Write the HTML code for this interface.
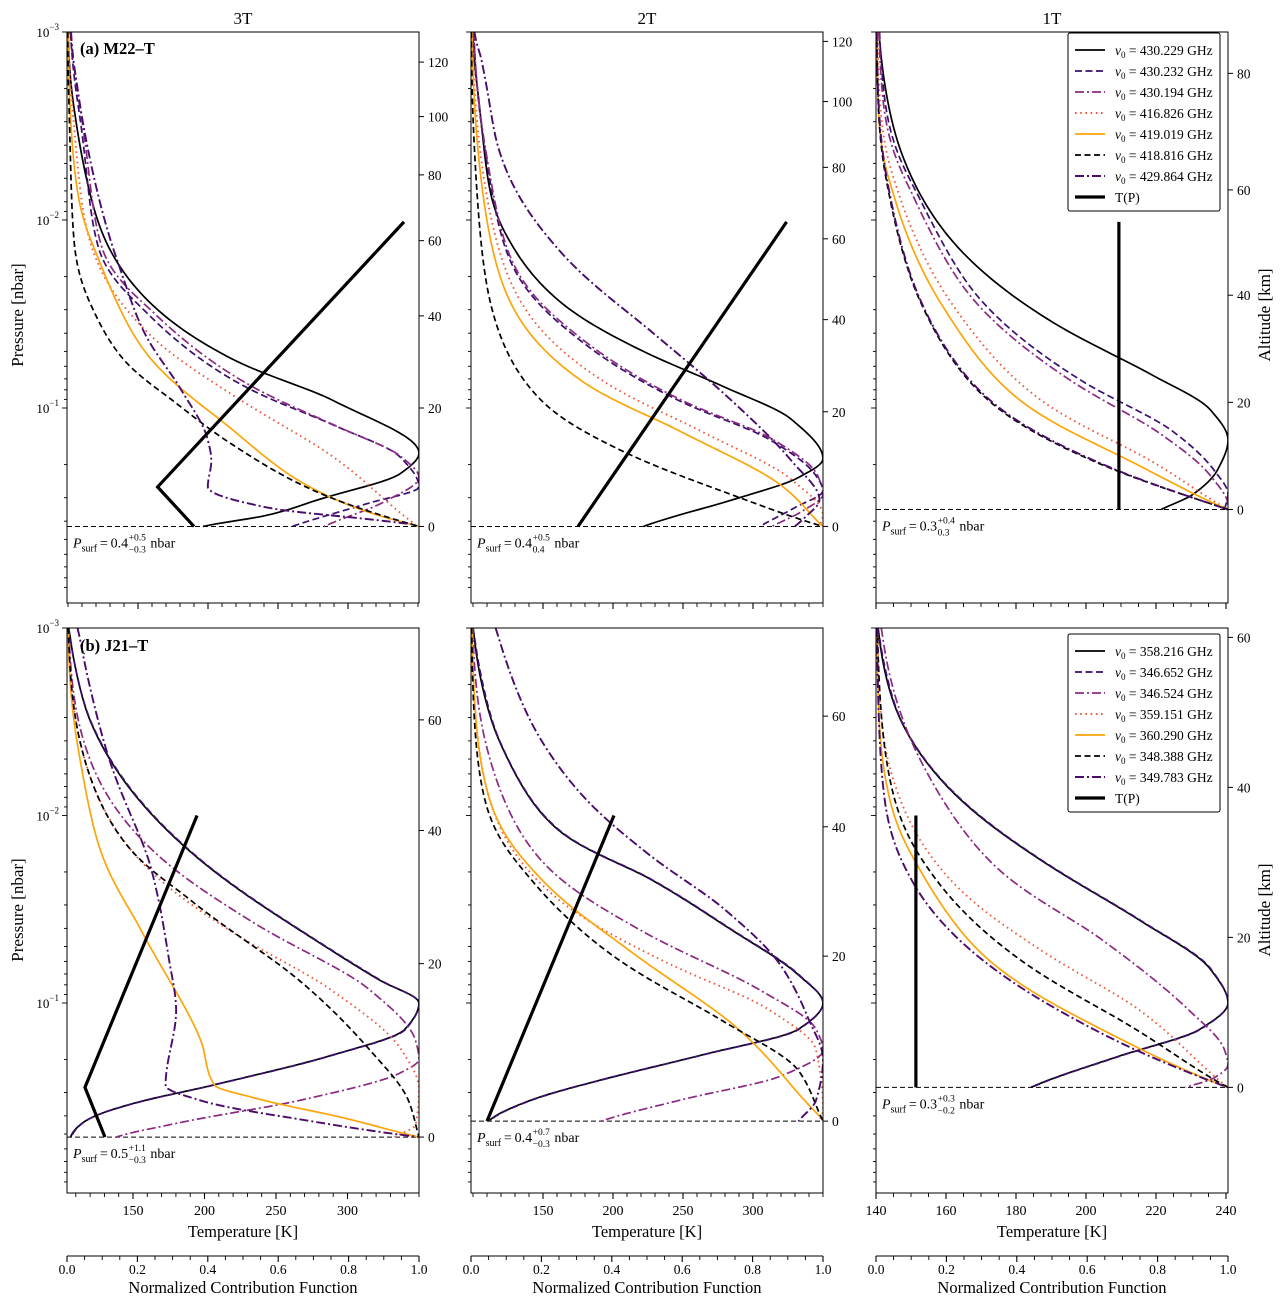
<!DOCTYPE html>
<html><head><meta charset="utf-8"><style>
html,body{margin:0;padding:0;background:#fff;}
svg{display:block;font-family:"Liberation Serif",serif;}
</style></head><body>
<svg id="fig" width="1280" height="1307" viewBox="0 0 1280 1307" xmlns="http://www.w3.org/2000/svg"></svg>
<script>
// ===== data: contribution functions as [log10 P (nbar), normalized CF] =====
const seriesLabelsTop = ["430.229","430.232","430.194","416.826","419.019","418.816","429.864"];
const seriesLabelsBot = ["358.216","346.652","346.524","359.151","360.290","348.388","349.783"];
const columnTitles = ["3T","2T","1T"];
const tempTicksWide = [150,200,250,300];
const tempTicksNarrow = [140,160,180,200,220,240];
const cfTicks = [0,0.2,0.4,0.6,0.8,1.0];
const logMajor = [-3,-2,-1];

// top-left (M22 3T)
const tl_c0 = [[-3,0.003],[-2.52,0.026],[-1.85,0.12],[-1.26,0.47],[-1.04,0.756],[-0.76,1.0],[-0.65,0.946],[-0.51,0.71],[-0.43,0.57],[-0.37,0.386]];
const tl_c1 = [[-3,0.01],[-2.5,0.04],[-1.85,0.09],[-1.5,0.23],[-1.1,0.52],[-0.91,0.756],[-0.74,0.946],[-0.58,1.0],[-0.49,0.85],[-0.37,0.64]];
const tl_c2 = [[-3,0.012],[-2.5,0.045],[-1.85,0.1],[-1.5,0.25],[-1.1,0.54],[-0.9,0.77],[-0.74,0.95],[-0.63,1.0],[-0.5,0.9],[-0.37,0.73]];
const tl_c3 = [[-3,0.004],[-2.5,0.02],[-1.97,0.054],[-1.4,0.23],[-1.07,0.47],[-0.74,0.756],[-0.38,0.99]];
const tl_c4 = [[-3,0.003],[-2.1,0.035],[-1.79,0.09],[-1.28,0.23],[-0.93,0.44],[-0.57,0.7],[-0.45,0.85],[-0.37,1.0]];
const tl_c5 = [[-3,0.002],[-2.52,0.007],[-1.89,0.02],[-1.5,0.08],[-1.26,0.16],[-1.04,0.3],[-0.83,0.45],[-0.53,0.74],[-0.37,1.0]];
const tl_c6 = [[-3,0.01],[-2.7,0.03],[-1.8,0.14],[-1.4,0.22],[-1.11,0.32],[-0.83,0.4],[-0.72,0.41],[-0.58,0.4],[-0.47,0.57],[-0.41,0.85],[-0.38,0.99]];
// top-middle (M22 2T)
const tm_c0 = [[-3,0.005],[-2.64,0.022],[-2.11,0.06],[-1.84,0.125],[-1.57,0.25],[-1.31,0.48],[-1.12,0.71],[-0.94,0.91],[-0.73,1.0],[-0.63,0.93],[-0.51,0.74],[-0.37,0.49]];
const tm_c1 = [[-3,0.008],[-2.37,0.04],[-1.79,0.11],[-1.36,0.31],[-1.04,0.59],[-0.83,0.85],[-0.64,0.98],[-0.56,1.0],[-0.47,0.92],[-0.37,0.82]];
const tm_c2 = [[-3,0.008],[-2.37,0.042],[-1.79,0.115],[-1.36,0.32],[-1.04,0.6],[-0.83,0.86],[-0.64,0.985],[-0.54,1.0],[-0.45,0.94],[-0.37,0.855]];
const tm_c3 = [[-3,0.004],[-2.37,0.026],[-1.57,0.14],[-1.15,0.37],[-0.88,0.65],[-0.62,0.91],[-0.43,1.0],[-0.37,0.99]];
const tm_c4 = [[-3,0.003],[-2.37,0.02],[-1.57,0.11],[-1.15,0.31],[-0.88,0.59],[-0.59,0.88],[-0.37,1.0]];
const tm_c5 = [[-3,0.001],[-2.37,0.01],[-1.57,0.054],[-1.04,0.2],[-0.78,0.42],[-0.56,0.71],[-0.37,1.0]];
const tm_c6 = [[-3,0.01],[-2.85,0.03],[-2.37,0.08],[-1.84,0.25],[-1.41,0.51],[-1.04,0.74],[-0.72,0.91],[-0.51,0.99],[-0.42,0.95],[-0.37,0.92]];
// top-right (M22 1T)
const tr_c0 = [[-3,0.008],[-2.96,0.01],[-2.37,0.07],[-1.84,0.24],[-1.47,0.49],[-1.18,0.78],[-0.99,0.95],[-0.83,1.0],[-0.67,0.97],[-0.54,0.9],[-0.46,0.81]];
const tr_c1 = [[-3,0.01],[-2.64,0.025],[-2.11,0.125],[-1.57,0.3],[-1.15,0.58],[-0.88,0.84],[-0.67,0.96],[-0.54,1.0],[-0.46,0.99]];
const tr_c2 = [[-3,0.008],[-2.64,0.02],[-2.11,0.11],[-1.57,0.28],[-1.15,0.55],[-0.86,0.81],[-0.64,0.95],[-0.48,1.0],[-0.46,0.99]];
const tr_c3 = [[-3,0.004],[-2.64,0.011],[-2.11,0.07],[-1.57,0.21],[-1.04,0.47],[-0.72,0.78],[-0.46,1.0]];
const tr_c4 = [[-3,0.003],[-2.64,0.006],[-2.11,0.054],[-1.57,0.18],[-1.04,0.41],[-0.72,0.72],[-0.46,1.0]];
const tr_c5 = [[-3,0.002],[-2.64,0.006],[-2.11,0.04],[-1.57,0.125],[-1.04,0.32],[-0.70,0.64],[-0.51,0.92],[-0.46,1.0]];
const tr_c6 = [[-3,0.002],[-2.64,0.007],[-2.11,0.042],[-1.57,0.127],[-1.04,0.325],[-0.70,0.645],[-0.51,0.92],[-0.46,1.0]];
// bottom-left (J21 3T)
const bl_c0 = [[-3,0.005],[-2.94,0.01],[-2.51,0.065],[-2.14,0.18],[-1.76,0.38],[-1.39,0.66],[-1.12,0.89],[-1.0,1.0],[-0.86,0.96],[-0.72,0.75],[-0.56,0.41],[-0.46,0.18],[-0.35,0.037],[-0.285,0.01]];
const bl_c1 = [[-3,0.005],[-2.94,0.01],[-2.51,0.066],[-2.14,0.182],[-1.76,0.382],[-1.39,0.662],[-1.12,0.892],[-1.0,1.0],[-0.86,0.962],[-0.72,0.752],[-0.56,0.412],[-0.46,0.182],[-0.35,0.038],[-0.285,0.012]];
const bl_c2 = [[-3,0.005],[-2.3,0.065],[-1.82,0.24],[-1.44,0.52],[-1.07,0.86],[-0.80,0.99],[-0.70,1.0],[-0.63,0.95],[-0.48,0.66],[-0.35,0.29],[-0.285,0.14]];
const bl_c3 = [[-3,0.004],[-2.3,0.05],[-1.82,0.18],[-1.39,0.46],[-1.07,0.75],[-0.75,0.95],[-0.54,1.0],[-0.35,0.99],[-0.285,0.93]];
const bl_c4 = [[-3,0.003],[-2.3,0.037],[-1.82,0.094],[-1.39,0.21],[-0.80,0.38],[-0.56,0.42],[-0.50,0.52],[-0.39,0.78],[-0.285,1.0]];
const bl_c5 = [[-3,0.004],[-2.3,0.05],[-1.82,0.18],[-1.55,0.35],[-1.12,0.66],[-0.75,0.86],[-0.48,0.97],[-0.285,1.0]];
const bl_c6 = [[-3,0.03],[-2.94,0.037],[-2.3,0.12],[-1.71,0.24],[-1.23,0.29],[-0.96,0.31],[-0.56,0.28],[-0.48,0.38],[-0.38,0.66],[-0.285,1.0]];
// bottom-middle (J21 2T)
const bm_c0 = [[-3,0.006],[-2.94,0.01],[-2.4,0.08],[-1.92,0.25],[-1.66,0.51],[-1.39,0.74],[-1.15,0.93],[-1.0,1.0],[-0.86,0.93],[-0.72,0.65],[-0.59,0.37],[-0.46,0.14],[-0.37,0.05]];
const bm_c1 = [[-3,0.006],[-2.94,0.011],[-2.4,0.081],[-1.92,0.252],[-1.66,0.512],[-1.39,0.742],[-1.15,0.932],[-1.0,1.0],[-0.86,0.932],[-0.72,0.652],[-0.59,0.372],[-0.46,0.142],[-0.37,0.052]];
const bm_c2 = [[-3,0.005],[-2.3,0.054],[-1.76,0.2],[-1.39,0.48],[-1.07,0.82],[-0.86,0.98],[-0.75,1.0],[-0.61,0.88],[-0.48,0.59],[-0.37,0.37]];
const bm_c3 = [[-3,0.003],[-2.08,0.054],[-1.55,0.25],[-1.23,0.54],[-0.96,0.85],[-0.75,0.98],[-0.43,1.0],[-0.37,0.99]];
const bm_c4 = [[-3,0.003],[-2.08,0.054],[-1.66,0.2],[-1.28,0.45],[-0.86,0.76],[-0.38,1.0]];
const bm_c5 = [[-3,0.002],[-2.08,0.04],[-1.66,0.17],[-1.23,0.42],[-0.91,0.71],[-0.64,0.93],[-0.37,1.0]];
const bm_c6 = [[-3,0.07],[-2.94,0.08],[-2.4,0.2],[-2.1,0.32],[-1.8,0.5],[-1.5,0.72],[-1.2,0.88],[-0.91,0.96],[-0.70,1.0],[-0.48,0.98],[-0.37,0.93]];
// bottom-right (J21 1T)
const br_c0 = [[-3,0.006],[-2.94,0.01],[-2.51,0.07],[-2.14,0.21],[-1.76,0.47],[-1.44,0.75],[-1.18,0.95],[-1.0,1.0],[-0.86,0.92],[-0.71,0.68],[-0.55,0.44]];
const br_c1 = [[-3,0.006],[-2.94,0.011],[-2.51,0.071],[-2.14,0.212],[-1.76,0.472],[-1.44,0.752],[-1.18,0.952],[-1.0,1.0],[-0.86,0.922],[-0.71,0.682],[-0.55,0.442]];
const br_c2 = [[-3,0.015],[-2.94,0.02],[-2.3,0.125],[-1.71,0.35],[-1.34,0.64],[-0.96,0.89],[-0.75,0.99],[-0.67,1.0],[-0.6,0.96],[-0.55,0.88]];
const br_c3 = [[-3,0.004],[-2.65,0.01],[-2.08,0.07],[-1.66,0.21],[-1.28,0.47],[-0.96,0.75],[-0.55,1.0]];
const br_c4 = [[-3,0.003],[-2.65,0.006],[-2.08,0.04],[-1.71,0.125],[-1.23,0.32],[-0.86,0.64],[-0.55,1.0]];
const br_c5 = [[-3,0.004],[-2.65,0.011],[-2.08,0.054],[-1.66,0.17],[-1.23,0.41],[-0.88,0.72],[-0.55,1.0]];
const br_c6 = [[-3,0.003],[-2.65,0.006],[-2.08,0.025],[-1.66,0.1],[-1.28,0.27],[-0.96,0.52],[-0.69,0.81],[-0.55,1.0]];

// temperature profiles [T (K), log10 P]
const tl_tp = [[190,-0.37],[164,-0.58],[340,-1.99]];
const tm_tp = [[175,-0.37],[324,-1.99]];
const tr_tp = [[209.4,-0.46],[209.4,-1.99]];
const bl_tp = [[130.4,-0.285],[116.4,-0.55],[194.8,-2.0]];
const bm_tp = [[110,-0.37],[200.7,-2.0]];
const br_tp = [[151.4,-0.55],[151.4,-2.0]];

// surface pressure (log10) and annotation values
const surfLog = [-0.37,-0.37,-0.46,-0.285,-0.37,-0.55];
const surfText = [["0.4","+0.5","\u22120.3"],["0.4","+0.5","0.4"],["0.3","+0.4","0.3"],["0.5","+1.1","\u22120.3"],["0.4","+0.7","\u22120.3"],["0.3","+0.3","\u22120.2"]];

// altitude axis: tick values and corresponding log10 P
const altValsTL = [0,20,40,60,80,100,120], altLogTL = [-0.37,-1.0,-1.49,-1.89,-2.24,-2.55,-2.84];
const altValsTM = [0,20,40,60,80,100,120], altLogTM = [-0.37,-0.98,-1.47,-1.90,-2.28,-2.63,-2.95];
const altValsTR = [0,20,40,60,80], altLogTR = [-0.46,-1.03,-1.6,-2.16,-2.78];
const altValsBL = [0,20,40,60], altLogBL = [-0.285,-1.21,-1.92,-2.51];
const altValsBM = [0,20,40,60], altLogBM = [-0.37,-1.25,-1.94,-2.53];
const altValsBR = [0,20,40,60], altLogBR = [-0.55,-1.35,-2.15,-2.95];

// ===== drawing =====
const NS = "http://www.w3.org/2000/svg";
const svg = document.getElementById("fig");
function mk(tag, attrs, parent){
  const e = document.createElementNS(NS, tag);
  for (const k in attrs) e.setAttribute(k, attrs[k]);
  (parent||svg).appendChild(e);
  return e;
}
const styles = [
  {c:"#000000", d:"", w:1.7},
  {c:"#3b0f70", d:"7,3.5", w:1.7},
  {c:"#8c2981", d:"9,3,2,3", w:1.7},
  {c:"#f0583c", d:"1.6,3.6", w:1.9},
  {c:"#fca50a", d:"", w:1.7},
  {c:"#000000", d:"6,3.5", w:1.7},
  {c:"#4a0c6b", d:"9,3,2,3", w:1.9}
];
function monotoneSample(data, n){
  const xs = data.map(d => d[0]);
  const ys = data.map(d => Math.log(Math.max(d[1], 1e-3)));
  const m = xs.length;
  const dl = [], sl = [];
  for (let i=0;i<m-1;i++){ dl.push(xs[i+1]-xs[i]); sl.push((ys[i+1]-ys[i])/(xs[i+1]-xs[i])); }
  const t = new Array(m);
  t[0] = sl[0]; t[m-1] = sl[m-2];
  for (let i=1;i<m-1;i++){
    if (sl[i-1]*sl[i] <= 0) t[i] = 0;
    else { const w1 = 2*dl[i]+dl[i-1], w2 = dl[i]+2*dl[i-1]; t[i] = (w1+w2)/(w1/sl[i-1]+w2/sl[i]); }
  }
  const out = [];
  for (let k=0;k<=n;k++){
    const x = xs[0] + (xs[m-1]-xs[0])*k/n;
    let i = 0; while (i < m-2 && x > xs[i+1]) i++;
    const h = dl[i], s = (x - xs[i]) / h;
    const h00 = 2*s*s*s-3*s*s+1, h10 = s*s*s-2*s*s+s, h01 = -2*s*s*s+3*s*s, h11 = s*s*s-s*s;
    const y = h00*ys[i] + h10*h*t[i] + h01*ys[i+1] + h11*h*t[i+1];
    out.push([x, Math.min(1, Math.exp(y))]);
  }
  return out;
}
const W = 352;
const panels = [
  {id:"tl", x0:67, top:32, bot:603, ppd:188, curves:[tl_c0,tl_c1,tl_c2,tl_c3,tl_c4,tl_c5,tl_c6], tp:tl_tp, tRef:150, tX:138, k:1.4, tMin:100, tMax:350, tMaj:tempTicksWide, tMinor:10, alt:[altValsTL,altLogTL], col:0, row:0},
  {id:"tm", x0:471, top:32, bot:603, ppd:188, curves:[tm_c0,tm_c1,tm_c2,tm_c3,tm_c4,tm_c5,tm_c6], tp:tm_tp, tRef:150, tX:543, k:1.4, tMin:100, tMax:350, tMaj:tempTicksWide, tMinor:10, alt:[altValsTM,altLogTM], col:1, row:0},
  {id:"tr", x0:876, top:32, bot:603, ppd:188, curves:[tr_c0,tr_c1,tr_c2,tr_c3,tr_c4,tr_c5,tr_c6], tp:tr_tp, tRef:140, tX:876, k:3.5, tMin:140, tMax:245, tMaj:tempTicksNarrow, tMinor:5, alt:[altValsTR,altLogTR], col:2, row:0},
  {id:"bl", x0:67, top:628, bot:1193, ppd:187.5, curves:[bl_c0,bl_c1,bl_c2,bl_c3,bl_c4,bl_c5,bl_c6], tp:bl_tp, tRef:150, tX:133, k:1.43, tMin:110, tMax:350, tMaj:tempTicksWide, tMinor:10, alt:[altValsBL,altLogBL], col:0, row:1},
  {id:"bm", x0:471, top:628, bot:1193, ppd:187.5, curves:[bm_c0,bm_c1,bm_c2,bm_c3,bm_c4,bm_c5,bm_c6], tp:bm_tp, tRef:150, tX:543, k:1.4, tMin:100, tMax:350, tMaj:tempTicksWide, tMinor:10, alt:[altValsBM,altLogBM], col:1, row:1},
  {id:"br", x0:876, top:628, bot:1193, ppd:187.5, curves:[br_c0,br_c1,br_c2,br_c3,br_c4,br_c5,br_c6], tp:br_tp, tRef:140, tX:876, k:3.5, tMin:140, tMax:245, tMaj:tempTicksNarrow, tMinor:5, alt:[altValsBR,altLogBR], col:2, row:1}
];

panels.forEach((p, pi) => {
  const g = mk("g", {});
  
  
  const yS = L => p.top + (L + 3) * p.ppd;
  const xV = v => p.x0 + v * W;
  const xT = T => p.tX + (T - p.tRef) * p.k;
  const clip = mk("clipPath", {id:"clip"+p.id}, g);
  mk("rect", {x:p.x0, y:p.top, width:W, height:p.bot-p.top}, clip);
  const plot = mk("g", {"clip-path":"url(#clip"+p.id+")"}, g);
  const sy = yS(surfLog[pi]);
  const sl = mk("line", {x1:p.x0, x2:p.x0+W, y1:sy, y2:sy, stroke:"#000", "stroke-width":1, "stroke-dasharray":"5,3"}, plot);
  
  
  p.curves.forEach((c, ci) => {
    const st = styles[ci];
    const pts = monotoneSample(c, 200).map(d => xV(d[1]).toFixed(2) + "," + yS(d[0]).toFixed(2)).join(" ");
    const path = mk("polyline", {points:pts, fill:"none", stroke:st.c, "stroke-width":st.w, "stroke-dasharray":st.d, "stroke-linejoin":"round"}, plot);
    
    
  });
  const tpPts = p.tp.map(d => xT(d[0]).toFixed(2) + "," + yS(d[1]).toFixed(2)).join(" ");
  const tpl = mk("polyline", {points:tpPts, fill:"none", stroke:"#000", "stroke-width":3.2, "stroke-linejoin":"miter"}, plot);
  
  
  const fr = mk("rect", {x:p.x0, y:p.top, width:W, height:p.bot-p.top, fill:"none", stroke:"#000", "stroke-width":1}, g);
  
  
  const yax = mk("g", {}, g);
  
  
  for (let dec=-3; dec<0; dec++){
    for (let m=1; m<10; m++){
      const L = dec + Math.log10(m);
      const y = yS(L);
      if (y < p.top-0.5 || y > p.bot) continue;
      const len = m===1 ? 5 : 3;
      mk("line", {x1:p.x0-len, x2:p.x0, y1:y, y2:y, stroke:"#000", "stroke-width":0.9}, yax);
    }
  }
  if (p.col===0){
    logMajor.forEach(L => {
      const t = mk("text", {x:p.x0-8, y:yS(L)+5, "text-anchor":"end", "font-size":13}, yax);
      t.textContent = "10";
      const s = mk("tspan", {dy:-7, "font-size":9}, t);
      s.textContent = "\u2212" + Math.abs(L);
    });
  }
  const aax = mk("g", {}, g);
  
  
  p.alt[0].forEach((a, i) => {
    const y = yS(p.alt[1][i]);
    mk("line", {x1:p.x0+W, x2:p.x0+W+5, y1:y, y2:y, stroke:"#000", "stroke-width":1}, aax);
    const t = mk("text", {x:p.x0+W+9, y:y+5, "font-size":13.5}, aax);
    t.textContent = a;
  });
  const tax = mk("g", {}, g);
  
  
  for (let T = Math.ceil(p.tMin/p.tMinor)*p.tMinor; T <= p.tMax; T += p.tMinor){
    const x = xT(T);
    if (x < p.x0 || x > p.x0+W+0.5) continue;
    const maj = p.tMaj.indexOf(T) >= 0;
    mk("line", {x1:x, x2:x, y1:p.bot, y2:p.bot+(maj?6:4), stroke:"#000", "stroke-width":maj?1.1:0.9}, tax);
  }
  if (p.row===1){
    p.tMaj.forEach(T => {
      const t = mk("text", {x:xT(T), y:p.bot+22, "text-anchor":"middle", "font-size":14}, tax);
      t.textContent = T;
    });
    const tl = mk("text", {x:p.x0+W/2, y:1237, "text-anchor":"middle", "font-size":16.5}, g);
    tl.textContent = "Temperature [K]";
    
    
    const cax = mk("g", {}, g);
    
    
    mk("line", {x1:p.x0, x2:p.x0+W, y1:1256, y2:1256, stroke:"#000", "stroke-width":1}, cax);
    for (let i=0;i<=20;i++){
      const v = i*0.05, x = xV(v), maj = i%4===0;
      mk("line", {x1:x, x2:x, y1:1256, y2:1256+(maj?6:4), stroke:"#000", "stroke-width":maj?1.1:0.9}, cax);
    }
    cfTicks.forEach(v => {
      const t = mk("text", {x:xV(v), y:1274, "text-anchor":"middle", "font-size":13.5}, cax);
      t.textContent = v.toFixed(1);
    });
    const ct = mk("text", {x:p.x0+W/2, y:1293, "text-anchor":"middle", "font-size":16.5}, g);
    ct.textContent = "Normalized Contribution Function";
    
    
  }
  const st = surfText[pi];
  const ag = mk("g", {}, g);
  
  
  const base = sy + 21;
  const at = mk("text", {x:p.x0+6, y:base, "font-size":14}, ag);
  const a1 = mk("tspan", {"font-style":"italic"}, at); a1.textContent = "P";
  const a2 = mk("tspan", {dy:4, "font-size":10}, at); a2.textContent = "surf";
  const a3 = mk("tspan", {dy:-4}, at); a3.textContent = "\u2009=\u2009" + st[0];
  let ex = p.x0 + 6 + 66;
  try { ex = p.x0 + 6 + at.getComputedTextLength(); } catch(e) {}
  const sup = mk("text", {x:ex+0.5, y:base-7, "font-size":9.5}, ag); sup.textContent = st[1];
  const sub = mk("text", {x:ex+0.5, y:base+5, "font-size":9.5}, ag); sub.textContent = st[2];
  let w2 = 16;
  try { w2 = Math.max(sup.getComputedTextLength(), sub.getComputedTextLength()); } catch(e) {}
  const nb = mk("text", {x:ex+w2+5, y:base, "font-size":14}, ag); nb.textContent = "nbar";
});

columnTitles.forEach((t, i) => {
  const e = mk("text", {x:[243,647,1052][i], y:24, "text-anchor":"middle", "font-size":17});
  e.textContent = t;
  
  
});
[["(a) M22\u2013T",54],["(b) J21\u2013T",651]].forEach((d, i) => {
  const e = mk("text", {x:80, y:d[1], "font-size":16.5, "font-weight":"bold"});
  e.textContent = d[0];
  
  
});
[315, 910].forEach((cy, i) => {
  const e = mk("text", {x:0, y:0, "text-anchor":"middle", "font-size":17, transform:"translate(23,"+cy+") rotate(-90)"});
  e.textContent = "Pressure [nbar]";
  
  
  const a = mk("text", {x:0, y:0, "text-anchor":"middle", "font-size":17, transform:"translate(1270,"+cy+") rotate(-90)"});
  a.textContent = "Altitude [km]";
  
  
});
[[33, seriesLabelsTop],[634, seriesLabelsBot]].forEach((lg, li) => {
  const g = mk("g", {});
  
  
  mk("rect", {x:1068, y:lg[0], width:152, height:178, fill:"#fff", stroke:"#000", "stroke-width":1, rx:2}, g);
  lg[1].forEach((lab, i) => {
    const y = lg[0] + 17 + i*21;
    const st = styles[i];
    const row = mk("g", {}, g);
    
    
    mk("line", {x1:1075, x2:1105, y1:y, y2:y, stroke:st.c, "stroke-width":st.w, "stroke-dasharray":st.d}, row);
    const t = mk("text", {x:1115, y:y+5, "font-size":13.5}, row);
    const n = mk("tspan", {"font-style":"italic"}, t); n.textContent = "\u03BD";
    const s = mk("tspan", {dy:3, "font-size":9}, t); s.textContent = "0";
    const r = mk("tspan", {dy:-3}, t); r.textContent = " = " + lab + " GHz";
  });
  const y = lg[0] + 17 + 7*21;
  const row = mk("g", {}, g);
  
  
  mk("line", {x1:1075, x2:1105, y1:y, y2:y, stroke:"#000", "stroke-width":3.2}, row);
  const t = mk("text", {x:1115, y:y+5, "font-size":13.5}, row);
  t.textContent = "T(P)";
});
</script>
</body></html>
